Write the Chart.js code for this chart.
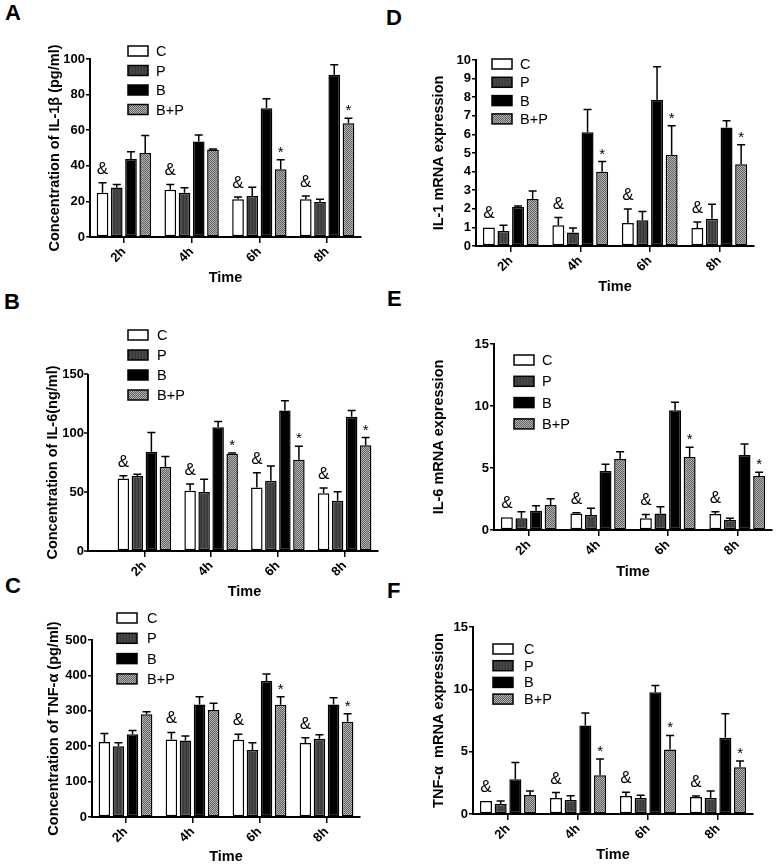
<!DOCTYPE html>
<html>
<head>
<meta charset="utf-8">
<script src="https://cdn.jsdelivr.net/npm/chart.js@4.4.0/dist/chart.umd.min.js"></script>
<style>
  html, body { margin: 0; padding: 0; background: #fff; overflow: hidden; }
  #fig { position: relative; width: 777px; height: 865px; }
  #fig canvas { position: absolute; }
  .letter { position: absolute; font: bold 22px 'Liberation Sans', Arial, sans-serif; line-height: 1; color: #000; }
</style>
</head>
<body>
<div id="fig">
  <div class="letter" style="left:5px;top:2px">A</div>
  <div class="letter" style="left:386px;top:7px">D</div>
  <div class="letter" style="left:4px;top:291px">B</div>
  <div class="letter" style="left:387px;top:288px">E</div>
  <div class="letter" style="left:5px;top:575px">C</div>
  <div class="letter" style="left:387px;top:580px">F</div>
</div>
<script>
// categories and groups
const times = ['2h', '4h', '6h', '8h'];
const groups = ['C', 'P', 'B', 'B+P'];

// A - IL-1b protein (pg/ml), rows = C, P, B, B+P
const il1bMeans = [[24.8, 26.5, 21.2, 21.2], [27.8, 24.8, 23.1, 19.7], [43.8, 53.6, 72.4, 91.2], [47.2, 49.2, 38.0, 63.9]];
const il1bErrs  = [[5.7, 3.0, 1.3, 1.9], [1.7, 2.8, 4.9, 1.5], [4.1, 3.7, 5.2, 5.6], [9.8, 0.3, 5.4, 2.8]];
const il1bAmp = [1, 1, 1, 1];
const il1bStar = [0, 0, 1, 1];

// D - IL-1 mRNA
const il1mMeans = [[1.0, 1.11, 1.24, 0.97], [0.81, 0.72, 1.38, 1.47], [2.1, 6.12, 7.86, 6.37], [2.53, 3.99, 4.9, 4.4]];
const il1mErrs  = [[0, 0.42, 0.75, 0.32], [0.3, 0.25, 0.47, 0.77], [0.05, 1.22, 1.78, 0.36], [0.43, 0.55, 1.56, 1.04]];
const il1mAmp = [1, 1, 1, 1];
const il1mStar = [0, 1, 1, 1];

// B - IL-6 protein (ng/ml)
const il6Means = [[61.5, 51, 53.9, 49], [63.5, 49.9, 59.5, 42.5], [84.2, 104.9, 119, 113.7], [71.4, 82.5, 77.4, 89.6]];
const il6Errs  = [[2.3, 5.7, 12.4, 4.3], [1.5, 10.8, 12.5, 7.7], [16.2, 4.8, 8.3, 5.3], [8.6, 0.5, 11.3, 6.5]];
const il6Amp = [1, 1, 1, 1];
const il6Star = [0, 1, 1, 1];

// E - IL-6 mRNA
const il6mMeans = [[1.02, 1.34, 0.94, 1.29], [0.94, 1.21, 1.34, 0.81], [1.56, 4.76, 9.65, 6.05], [2.02, 5.73, 5.89, 4.35]];
const il6mErrs  = [[0, 0.06, 0.32, 0.19], [0.54, 0.54, 0.54, 0.13], [0.4, 0.54, 0.65, 0.89], [0.51, 0.59, 0.78, 0.3]];
const il6mAmp = [1, 1, 1, 1];
const il6mStar = [0, 0, 1, 1];

// C - TNF-a protein (pg/ml)
const tnfMeans = [[212, 219, 218, 209], [200, 216, 189, 221], [234, 318, 384, 318], [290, 302, 317, 269]];
const tnfErrs  = [[24, 20, 16, 15], [10, 13, 21, 11], [10, 22, 20, 19], [7, 19, 23, 23]];
const tnfAmp = [0, 1, 1, 1];
const tnfStar = [0, 0, 1, 1];

// F - TNF-a mRNA
const tnfmMeans = [[1.05, 1.29, 1.45, 1.37], [0.8, 1.13, 1.29, 1.29], [2.79, 7.1, 9.76, 6.11], [1.53, 3.11, 5.17, 3.75]];
const tnfmErrs  = [[0, 0.43, 0.29, 0.08], [0.25, 0.34, 0.21, 0.56], [1.34, 1.0, 0.54, 1.93], [0.32, 1.31, 1.13, 0.51]];
const tnfmAmp = [1, 1, 1, 1];
const tnfmStar = [0, 1, 1, 1];

Chart.defaults.font.family = "'Liberation Sans', Arial, sans-serif";
Chart.defaults.color = '#000';

// fill textures
function makePattern(w, h, draw) {
  const c = document.createElement('canvas');
  c.width = w; c.height = h;
  const g = c.getContext('2d');
  draw(g);
  return g.createPattern(c, 'repeat');
}
const pFill = makePattern(3, 1, g => {
  g.fillStyle = '#383838'; g.fillRect(0, 0, 1, 1);
  g.fillStyle = '#4c4c4c'; g.fillRect(1, 0, 1, 1);
  g.fillStyle = '#424242'; g.fillRect(2, 0, 1, 1);
});
const bpFill = makePattern(2, 2, g => {
  g.fillStyle = '#b4b4b4'; g.fillRect(0, 0, 2, 2);
  g.fillStyle = '#606060'; g.fillRect(0, 0, 1, 1); g.fillRect(1, 1, 1, 1);
});
const fills = ['#fff', pFill, '#000', bpFill];

const extras = {
  id: 'extras',
  afterDraw(chart, args, o) {
    const ctx = chart.ctx, ys = chart.scales.y, a = chart.chartArea;
    ctx.save();
    ctx.strokeStyle = '#000';
    ctx.fillStyle = '#000';
    // detached y axis (panel B)
    if (o.gap) {
      const ax = a.left - o.gap;
      ctx.lineWidth = 2;
      ctx.beginPath();
      ctx.moveTo(ax, a.top); ctx.lineTo(ax, a.bottom + 1);
      ctx.moveTo(ax, a.bottom); ctx.lineTo(a.left, a.bottom);
      ctx.stroke();
      ctx.lineWidth = 1.5;
      ys.ticks.forEach(t => {
        const py = ys.getPixelForValue(t.value);
        ctx.beginPath(); ctx.moveTo(ax - 4, py); ctx.lineTo(ax, py); ctx.stroke();
      });
    }
    // error bars
    ctx.lineWidth = 1.5;
    const tops = [];
    chart.data.datasets.forEach((ds, i) => {
      const meta = chart.getDatasetMeta(i);
      tops[i] = [];
      meta.data.forEach((bar, j) => {
        const top = ys.getPixelForValue(ds.data[j] + ds.errors[j]);
        tops[i][j] = top;
        if (!ds.errors[j]) return;
        ctx.beginPath();
        ctx.moveTo(bar.x, bar.y); ctx.lineTo(bar.x, top);
        ctx.moveTo(bar.x - 4, top); ctx.lineTo(bar.x + 4, top);
        ctx.stroke();
      });
    });
    // significance marks
    ctx.textAlign = 'center';
    ctx.textBaseline = 'alphabetic';
    const m0 = chart.getDatasetMeta(0), m3 = chart.getDatasetMeta(3);
    ctx.font = "17px 'Liberation Sans', Arial, sans-serif";
    o.amp.forEach((f, j) => { if (f) ctx.fillText('&', m0.data[j].x, tops[0][j] - 9); });
    ctx.font = "15px 'Liberation Sans', Arial, sans-serif";
    o.star.forEach((f, j) => { if (f) ctx.fillText('*', m3.data[j].x, tops[3][j] - 3); });
    // legend
    const L = o.legend;
    ctx.font = "14.5px 'Liberation Sans', Arial, sans-serif";
    ctx.textAlign = 'left';
    ctx.textBaseline = 'middle';
    chart.data.datasets.forEach((ds, i) => {
      const cy = L.y + i * L.row;
      ctx.fillStyle = ds.backgroundColor;
      ctx.fillRect(L.x, cy - 5, 20, 10);
      ctx.lineWidth = 1.5;
      ctx.strokeRect(L.x, cy - 5, 20, 10);
      ctx.fillStyle = '#000';
      ctx.fillText(ds.label, L.textX, cy + 1);
    });
    ctx.restore();
  }
};

function makePanel(p) {
  const cv = document.createElement('canvas');
  cv.width = p.w; cv.height = p.h;
  cv.style.left = p.left + 'px'; cv.style.top = p.top + 'px';
  cv.style.width = p.w + 'px'; cv.style.height = p.h + 'px';
  document.getElementById('fig').appendChild(cv);
  const gap = p.gap || 0;
  new Chart(cv, {
    type: 'bar',
    data: {
      labels: times,
      datasets: groups.map((g, i) => ({
        label: g,
        data: p.means[i],
        errors: p.errs[i],
        backgroundColor: fills[i],
        borderColor: '#000',
        borderWidth: 1.5,
        borderSkipped: false,
        categoryPercentage: 0.84,
        barPercentage: 0.82
      }))
    },
    options: {
      responsive: false,
      animation: false,
      devicePixelRatio: 1,
      layout: { padding: { left: p.padLeft, top: p.area.top, right: p.w - p.area.right, bottom: 0 } },
      plugins: {
        legend: { display: false },
        tooltip: { enabled: false },
        extras: { amp: p.amp, star: p.star, legend: p.legend, gap: gap }
      },
      scales: {
        x: {
          afterFit: s => { s.height = p.h - p.area.bottom; },
          border: { display: true, color: '#000', width: 2 },
          grid: { drawOnChartArea: false, drawTicks: true, tickLength: 6, offset: false, color: '#000', lineWidth: 1.5 },
          ticks: { font: { size: 13, weight: 'bold' }, color: '#000', minRotation: 45, maxRotation: 45, padding: 1 },
          title: { display: true, text: 'Time', font: { size: 14.5, weight: 'bold' }, color: '#000', padding: { top: 0, bottom: 3 } }
        },
        y: {
          min: 0, max: p.yMax,
          afterFit: s => { s.width = p.area.left - p.padLeft; },
          border: { display: !gap, color: '#000', width: 2 },
          grid: { drawOnChartArea: false, drawTicks: !gap, tickLength: 4, color: '#000', lineWidth: 1.5 },
          ticks: { stepSize: p.step, font: { size: 13, weight: 'bold' }, color: '#000', padding: gap ? gap + 4 : 1 },
          title: { display: true, text: p.yTitle, font: { size: 14.5, weight: 'bold' }, color: '#000', padding: { top: 3, bottom: 0 } }
        }
      }
    },
    plugins: [extras]
  });
}

makePanel({ left: 0, top: 0, w: 388, h: 290, padLeft: 43, area: { left: 90, right: 361, top: 59, bottom: 237 },
  yMax: 100, step: 20, yTitle: 'Concentration of IL-1β (pg/ml)', means: il1bMeans, errs: il1bErrs, amp: il1bAmp, star: il1bStar,
  legend: { x: 128, y: 51, row: 19.5, textX: 156 } });

makePanel({ left: 388, top: 0, w: 389, h: 299, padLeft: 39, area: { left: 88, right: 366, top: 60, bottom: 246 },
  yMax: 10, step: 1, yTitle: 'IL-1 mRNA expression', means: il1mMeans, errs: il1mErrs, amp: il1mAmp, star: il1mStar,
  legend: { x: 104, y: 64, row: 18.3, textX: 132 } });

makePanel({ left: 0, top: 285, w: 388, h: 319, padLeft: 41, gap: 23, area: { left: 111, right: 378, top: 89, bottom: 266 },
  yMax: 150, step: 50, yTitle: 'Concentration of IL-6(ng/ml)', means: il6Means, errs: il6Errs, amp: il6Amp, star: il6Star,
  legend: { x: 128, y: 50, row: 20, textX: 157 } });

makePanel({ left: 388, top: 290, w: 389, h: 294, padLeft: 39, area: { left: 106, right: 384, top: 54, bottom: 240 },
  yMax: 15, step: 5, yTitle: 'IL-6 mRNA expression', means: il6mMeans, errs: il6mErrs, amp: il6mAmp, star: il6mStar,
  legend: { x: 126, y: 70, row: 21.3, textX: 154 } });

makePanel({ left: 0, top: 575, w: 388, h: 294, padLeft: 42, area: { left: 92, right: 360, top: 65, bottom: 242 },
  yMax: 500, step: 100, yTitle: 'Concentration of TNF-α (pg/ml)', means: tnfMeans, errs: tnfErrs, amp: tnfAmp, star: tnfStar,
  legend: { x: 117, y: 43, row: 20.3, textX: 147 } });

makePanel({ left: 388, top: 575, w: 389, h: 292, padLeft: 39, area: { left: 85, right: 365, top: 52, bottom: 239 },
  yMax: 15, step: 5, yTitle: 'TNF-α  mRNA expression', means: tnfmMeans, errs: tnfmErrs, amp: tnfmAmp, star: tnfmStar,
  legend: { x: 105, y: 74, row: 16.7, textX: 136 } });
</script>
</body>
</html>
